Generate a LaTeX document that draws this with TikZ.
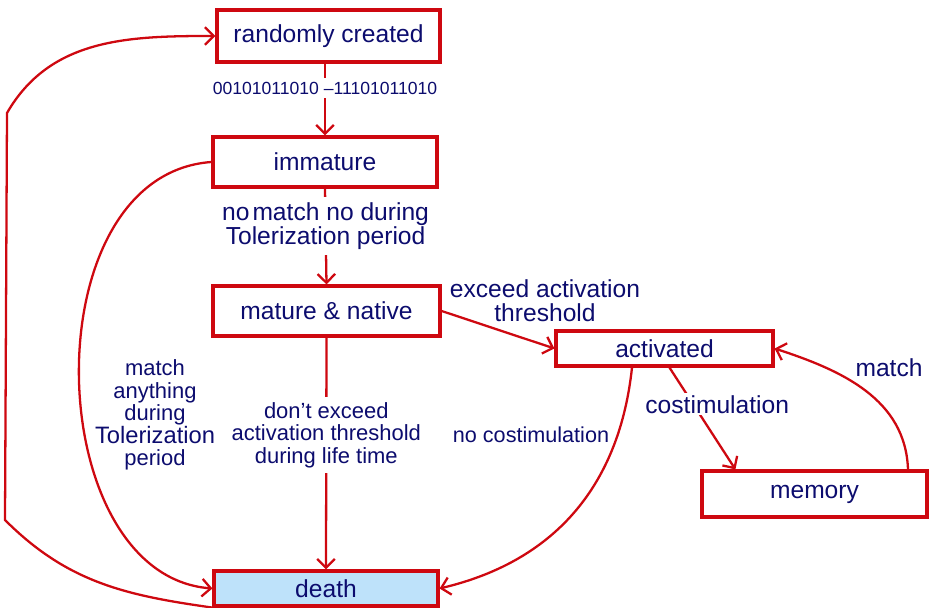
\documentclass[tikz,border=0pt]{standalone}
\usepackage{fontspec}
\setmainfont{Liberation Sans}
\usetikzlibrary{arrows.meta, positioning}
\definecolor{mydarkred}{RGB}{206, 8, 16}
\definecolor{mynavy}{RGB}{12, 12, 110}
\definecolor{mylightblue}{RGB}{190, 226, 250}

\begin{document}
\begin{tikzpicture}[>={Straight Barb[length=5pt, width=10pt]},
    statebox/.style={draw=mydarkred, line width=1.8pt, text=mynavy, font=\fontsize{14}{16}\selectfont, inner sep=0pt},
    link/.style={->, mydarkred, line width=1.3pt},
    lbl/.style={text=mynavy, font=\fontsize{14}{14}\selectfont, align=center, inner sep=1pt},
    smalllbl/.style={text=mynavy, font=\fontsize{12.5}{12.8}\selectfont, align=center, inner sep=1pt}]
\useasboundingbox (0,0) rectangle (18.58,12.16);

% States
\node[statebox, minimum width=4.46cm, minimum height=1.04cm] (rand) at (6.57,11.44) {randomly created};
\node[statebox, minimum width=4.48cm, minimum height=1.00cm] (imm) at (6.50,8.92) {immature};
\node[statebox, minimum width=4.54cm, minimum height=1.00cm] (mat) at (6.53,5.94) {mature \& native};
\node[statebox, minimum width=4.34cm, minimum height=0.70cm] (act) at (13.29,5.19) {activated};
\node[statebox, minimum width=4.50cm, minimum height=0.92cm] (mem) at (16.29,2.28) {memory};
\node[statebox, fill=mylightblue, minimum width=4.48cm, minimum height=0.70cm] (death) at (6.52,0.39) {death};

% Main line
\draw[link] (rand.south -| imm.north) -- node[pos=0.34, fill=white, text=mynavy, font=\fontsize{10}{11}\selectfont, inner sep=2pt] {00101011010 --11101011010} (imm.north);
\draw[link] (imm.south) -- node[lbl, pos=0.39, fill=white, inner sep=3pt] {no\hspace{0.12em}match no during\\Tolerization period} (mat.north);
\draw[link] (mat.south) -- node[smalllbl, pos=0.42, fill=white, inner sep=3pt] {don\char"0027t exceed\\activation threshold\\during life time} (death.north);

% Activation branch
\draw[link] (mat.east) -- (act.west);
\node[lbl, font=\fontsize{14}{13.7}\selectfont] (lblexceed) at (10.90,6.14) {exceed activation\\threshold};
\draw[link] ([xshift=0.1cm]act.south) -- node[lbl, pos=0.36, fill=white, xshift=0.48cm] {costimulation} ([xshift=0.7cm]mem.north west);
\draw[link] ([xshift=1.87cm]mem.north) to[out=92, in=-18] (act.east);
\node[lbl] (lblmatch) at (17.78,4.80) {match};
\draw[link] ([xshift=-0.65cm]act.south) .. controls (12.40,2.56) and (11.20,0.96) .. (death.east);
\node[smalllbl, font=\fontsize{12.3}{13}\selectfont] (lblnocost) at (10.62,3.46) {no costimulation};

% Back to death / recycling
\draw[link] (imm.west) .. controls (0.60,8.66) and (0.80,0.66) .. (death.west);
\node[smalllbl] (lbltol) at (3.10,3.86) {match\\anything\\during\\{\fontsize{13.5}{12.8}\selectfont Tolerization}\\period};
\coordinate (lowbend) at (0.10,1.76);
\coordinate (highbend) at (0.14,9.90);
\draw[link] (death.south west) to[out=172, in=-45] (lowbend) -- (highbend) to[out=60, in=180] (rand.west);
\end{tikzpicture}
\end{document}
